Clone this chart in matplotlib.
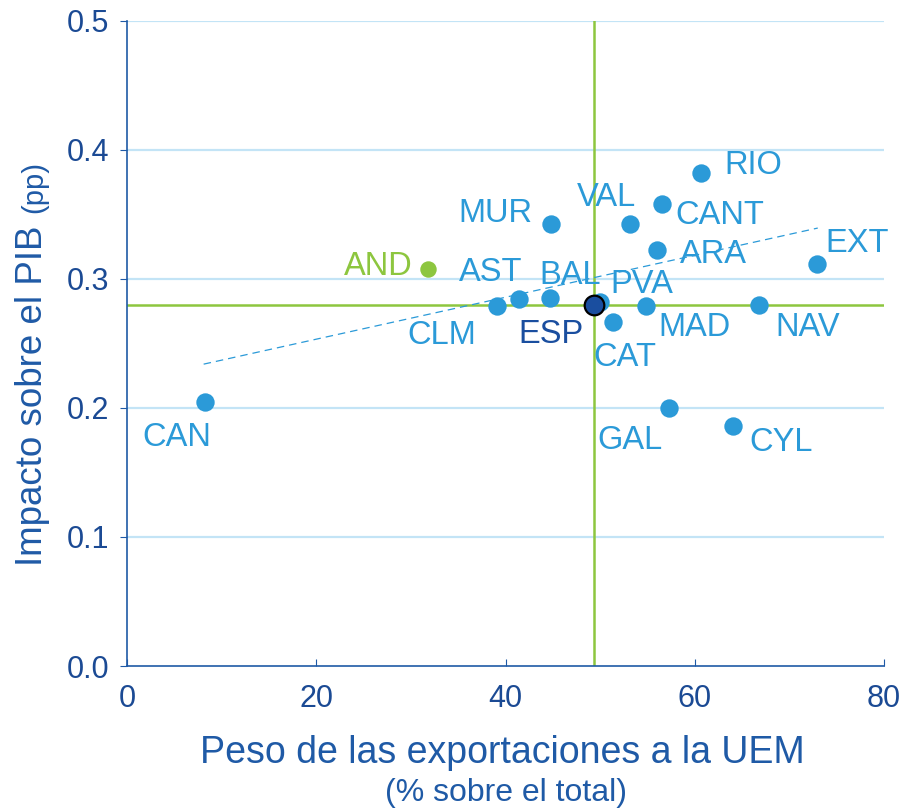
import matplotlib.pyplot as plt

plt.rcParams['font.family'] = ['Liberation Sans', 'DejaVu Sans']

# regiones: peso exportaciones UEM (%) e impacto sobre el PIB (pp)
regions = ['CAN', 'AND', 'CLM', 'AST', 'BAL', 'MUR', 'PVA', 'CAT', 'VAL', 'ARA',
           'CANT', 'MAD', 'GAL', 'RIO', 'CYL', 'NAV', 'EXT']
export_share = [8.2, 31.8, 39.1, 41.4, 44.7, 44.8, 50.0, 51.4, 53.2, 56.0,
                56.5, 54.8, 57.3, 60.7, 64.0, 66.8, 72.9]
gdp_impact = [0.205, 0.308, 0.279, 0.2845, 0.285, 0.343, 0.282, 0.267, 0.343, 0.3225,
              0.358, 0.279, 0.200, 0.382, 0.186, 0.280, 0.312]

esp_x = 49.35
esp_y = 0.280

trend_x = [8.1, 73.0]
trend_y = [0.234, 0.3395]

# label offsets in points (layout)
offsets = {
    'CAN': (-20, -26), 'AND': (-36, 1.6), 'CLM': (-40, -21.4), 'AST': (-20, 19),
    'BAL': (14.4, 16.7), 'MUR': (-40, 7.4), 'PVA': (30, 12.4), 'CAT': (8, -26),
    'VAL': (-17, 19), 'CANT': (42, -7.8), 'ARA': (41, -3.4), 'RIO': (37, 5.2),
    'EXT': (29, 14.6), 'MAD': (35, -15.7), 'NAV': (35, -16.4), 'GAL': (-28, -23.6),
    'CYL': (34.6, -12.1),
}

dot_color = '#2B9AD8'
green = '#8DC63F'
axis_blue = '#1F5AA6'
tick_blue = '#1B4A94'
navy = '#1A4E9F'

fig = plt.figure(figsize=(9.05, 8.08), dpi=100)
ax = fig.add_axes([127 / 905, 1 - 666 / 808, (884 - 127) / 905, (666 - 21) / 808])

ax.set_xlim(0, 80)
ax.set_ylim(0, 0.5)

for yv in [0.1, 0.2, 0.3, 0.4, 0.5]:
    ax.axhline(yv, color='#C3E4F6', lw=1.6, zorder=0)

ax.axvline(esp_x, color=green, lw=1.8, zorder=1)
ax.axhline(esp_y, color=green, lw=1.8, zorder=1)

ax.plot(trend_x, trend_y, ls=(0, (6, 4)), color=dot_color, lw=0.9, zorder=2)

for name, x, y in zip(regions, export_share, gdp_impact):
    c = green if name == 'AND' else dot_color
    s = 140 if name == 'AND' else 175
    ax.scatter(x, y, s=s, color=c, zorder=3, linewidths=0)
    dx, dy = offsets[name]
    ax.annotate(name, (x, y), xytext=(dx, dy), textcoords='offset points',
                ha='center', va='center', fontsize=23.5, color=c)

ax.scatter(esp_x, esp_y, s=200, color=navy, edgecolors='black', linewidths=1.6, zorder=4)
ax.annotate('ESP', (esp_x, esp_y), xytext=(-31, -21.4), textcoords='offset points',
            ha='center', va='center', fontsize=23.5, color=navy)

for side in ['top', 'right']:
    ax.spines[side].set_visible(False)
for side in ['left', 'bottom']:
    ax.spines[side].set_color(axis_blue)
    ax.spines[side].set_linewidth(1.2)

ax.set_xticks([0, 20, 40, 60, 80])
ax.set_yticks([0.0, 0.1, 0.2, 0.3, 0.4, 0.5])
ax.set_yticklabels(['0.0', '0.1', '0.2', '0.3', '0.4', '0.5'])
ax.tick_params(axis='x', direction='in', length=5, color=axis_blue, labelsize=22,
               labelcolor=tick_blue, pad=13)
ax.tick_params(axis='y', direction='out', length=5, color=axis_blue, labelsize=22,
               labelcolor=tick_blue, pad=8)

fig.text(0.5 * (127 + 884) / 905 - 0.003, 1 - 753 / 808, 'Peso de las exportaciones a la UEM',
         ha='center', va='center', fontsize=27, color=axis_blue)
fig.text(0.5 * (127 + 884) / 905, 1 - 793 / 808, '(% sobre el total)',
         ha='center', va='center', fontsize=23, color=axis_blue)

fig.text(32 / 905, 1 - 566 / 808, 'Impacto sobre el PIB', rotation=90,
         ha='center', va='bottom', fontsize=26.5, color=axis_blue)
fig.text(34 / 905, 1 - 213 / 808, '(pp)', rotation=90,
         ha='center', va='bottom', fontsize=21, color=axis_blue)

fig.savefig('out.png', dpi=100)
